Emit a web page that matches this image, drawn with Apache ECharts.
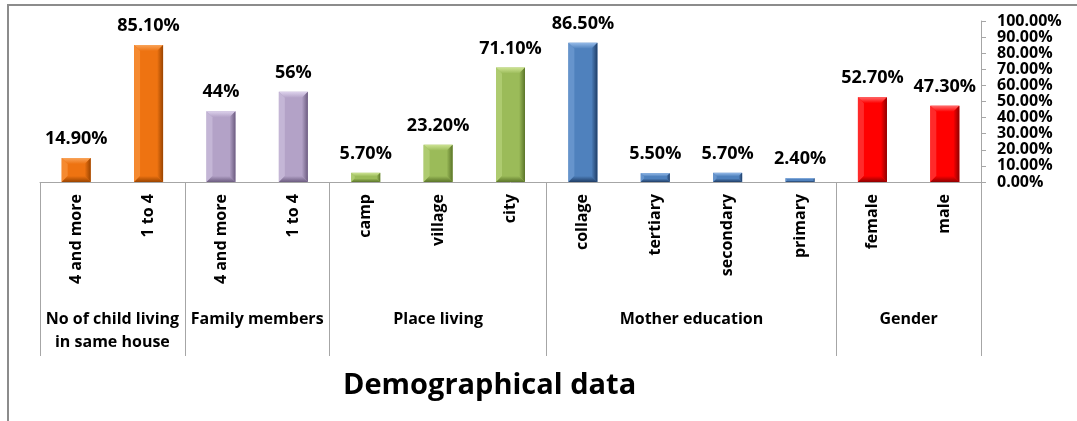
<!DOCTYPE html>
<html>
<head>
<meta charset="utf-8">
<script src="https://cdn.jsdelivr.net/npm/echarts@6/dist/echarts.min.js"></script>
<style>
html,body{margin:0;padding:0;background:#fff;}
#chart{width:1077px;height:421px;}
</style>
</head>
<body>
<div id="chart"></div>
<script>
// ---- data ----
const categories = ['4 and more', '1 to 4', '4 and more', '1 to 4', 'camp', 'village', 'city',
  'collage', 'tertiary', 'secondary', 'primary', 'female', 'male'];
const values = [14.9, 85.1, 44, 56, 5.7, 23.2, 71.1, 86.5, 5.5, 5.7, 2.4, 52.7, 47.3];
const groupNames = ['No of child living\nin same house', 'Family members', 'Place living', 'Mother education', 'Gender'];
const groupSizes = [2, 2, 3, 4, 2];
const yTicks = [0, 10, 20, 30, 40, 50, 60, 70, 80, 90, 100];
const chartTitle = 'Demographical data';

// ---- styles (per group) ----
const palette = [
  {base: '#EE7311', light: '#F9A45A', dark: '#9A4400', side: '#F58A30'},
  {base: '#B3A2C7', light: '#DDD2EC', dark: '#6C5C80', side: '#C4B6D6'},
  {base: '#9BBB59', light: '#CDE394', dark: '#5B7529', side: '#AECB70'},
  {base: '#4F81BD', light: '#95BAE8', dark: '#1F3D66', side: '#6694CC'},
  {base: '#FF0000', light: '#FF6A6A', dark: '#8E0000', side: '#FF2A2A'}
];

// derived: group index of each category, group axis on half-category points
const catGroup = [];
groupSizes.forEach((n, g) => { for (let k = 0; k < n; k++) catGroup.push(g); });
const nPts = categories.length * 2 + 1;
const groupAxisData = new Array(nPts).fill('');
const groupBoundaryPts = [0];
let acc = 0;
groupSizes.forEach((n, g) => {
  groupAxisData[2 * acc + n] = groupNames[g];
  acc += n;
  groupBoundaryPts.push(2 * acc);
});

const FONT = '"Open Sans", "Noto Sans", sans-serif';
const BAR_W = 29;

const chart = echarts.init(document.getElementById('chart'), null, {renderer: 'canvas'});

function bevelItem(params, api) {
  const idx = api.value(0);
  const v = api.value(1);
  const top = api.coord([idx, v]);
  const base = api.coord([idx, 0]);
  const x0 = top[0] - BAR_W / 2, x1 = x0 + BAR_W;
  const y0 = top[1], y1 = base[1];
  const h = y1 - y0;
  const b = Math.max(0.5, Math.min(6, h / 2.6));
  const p = palette[catGroup[idx]];
  return {
    type: 'group',
    children: [
      {type: 'polygon', shape: {points: [[x0, y0], [x1, y0], [x1 - b, y0 + b], [x0 + b, y0 + b]]},
        style: {fill: new echarts.graphic.LinearGradient(0, 0, 0, 1, [{offset: 0, color: p.light}, {offset: 1, color: p.base}])}},
      {type: 'polygon', shape: {points: [[x0, y0], [x0 + b, y0 + b], [x0 + b, y1 - b], [x0, y1]]},
        style: {fill: p.side}},
      {type: 'polygon', shape: {points: [[x1, y0], [x1, y1], [x1 - b, y1 - b], [x1 - b, y0 + b]]},
        style: {fill: new echarts.graphic.LinearGradient(0, 0, 1, 0, [{offset: 0, color: p.base}, {offset: 1, color: p.dark}])}},
      {type: 'polygon', shape: {points: [[x0, y1], [x1, y1], [x1 - b, y1 - b], [x0 + b, y1 - b]]},
        style: {fill: new echarts.graphic.LinearGradient(0, 0, 0, 1, [{offset: 0, color: p.base}, {offset: 1, color: p.dark}])}}
    ]
  };
}

const option = {
  animation: false,
  backgroundColor: '#fff',
  textStyle: {fontFamily: FONT},
  title: {
    text: chartTitle, left: 338, top: 366,
    textStyle: {fontFamily: FONT, fontSize: 29, fontWeight: 'bold', color: '#000'}
  },
  graphic: [{
    type: 'rect', silent: true, z: -10,
    shape: {x: 8, y: 5, width: 1200, height: 700},
    style: {fill: 'none', stroke: '#8c8c8c', lineWidth: 2}
  }],
  grid: {left: 40, right: 96, top: 21, bottom: 239, containLabel: false},
  xAxis: [{
    type: 'category',
    data: categories,
    position: 'bottom',
    axisLine: {lineStyle: {color: '#a6a6a6', width: 1}},
    axisTick: {interval: 0, length: 111, lineStyle: {color: '#a6a6a6'}},
    axisLabel: {interval: 0, rotate: 90, margin: 12, fontSize: 16, fontWeight: 'bold', color: '#000', fontFamily: FONT}
  }, {
    type: 'category',
    data: groupAxisData,
    boundaryGap: false,
    position: 'bottom',
    axisLine: {show: false},
    axisTick: {
      interval: (i) => groupBoundaryPts.indexOf(i) >= 0,
      length: 174, lineStyle: {color: '#a6a6a6'}
    },
    axisLabel: {interval: 0, margin: 126, fontSize: 16, fontWeight: 'bold', color: '#000', fontFamily: FONT, lineHeight: 23, align: 'center'}
  }],
  yAxis: {
    type: 'value',
    position: 'right',
    min: 0, max: 100, interval: 10,
    splitLine: {show: false},
    axisLine: {show: true, lineStyle: {color: '#a6a6a6'}},
    axisTick: {show: true, length: 5, lineStyle: {color: '#a6a6a6'}},
    axisLabel: {
      margin: 16, fontSize: 16, fontWeight: 'bold', color: '#000', fontFamily: FONT,
      formatter: (v) => (yTicks.indexOf(v) >= 0 ? v.toFixed(2) + '%' : '')
    }
  },
  series: [{
    type: 'bar',
    xAxisIndex: 0,
    barWidth: BAR_W,
    data: values.map((v, i) => ({value: v, itemStyle: {color: palette[catGroup[i]].base}})),
    label: {
      show: true, position: 'top', distance: 10,
      fontFamily: FONT, fontSize: 18, fontWeight: 'bold', color: '#000',
      formatter: (p) => (Number.isInteger(p.value) ? p.value : p.value.toFixed(2)) + '%'
    },
    z: 2
  }, {
    type: 'custom',
    xAxisIndex: 0,
    renderItem: bevelItem,
    data: values.map((v, i) => [i, v]),
    encode: {x: 0, y: 1},
    z: 3,
    silent: true
  }]
};
chart.setOption(option);
</script>
</body>
</html>
